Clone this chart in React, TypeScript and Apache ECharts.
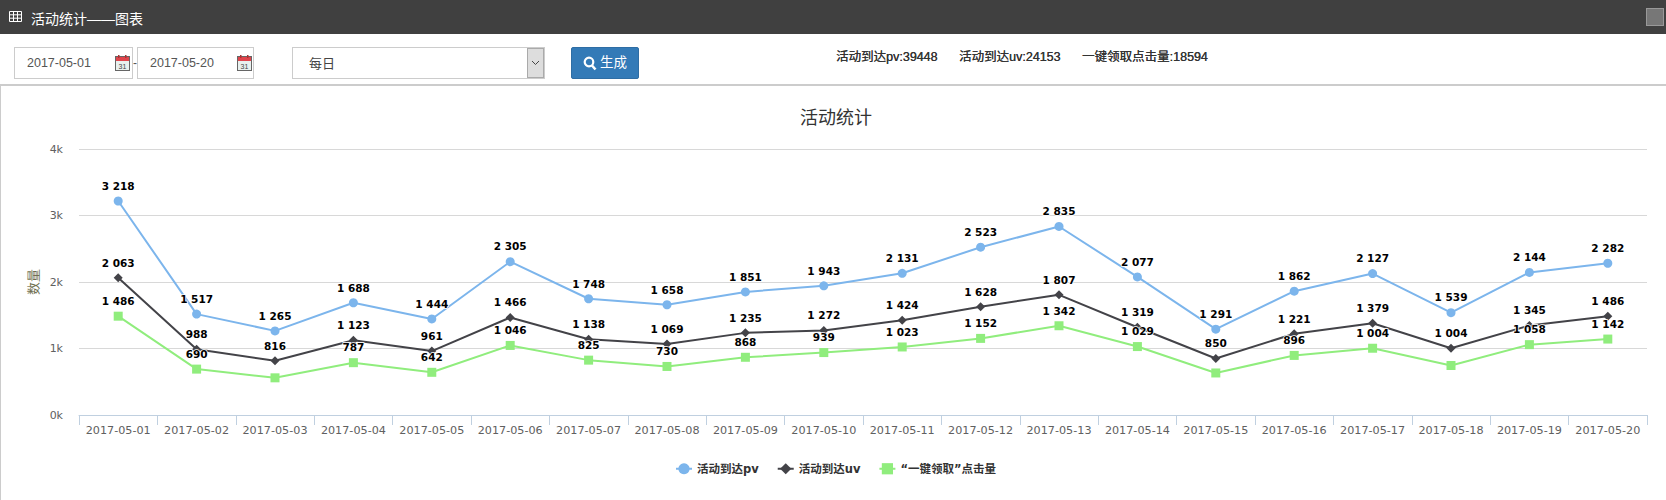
import React, { useEffect, useRef } from "react";
import * as echarts from "echarts";

const categories = ["2017-05-01","2017-05-02","2017-05-03","2017-05-04","2017-05-05","2017-05-06","2017-05-07","2017-05-08","2017-05-09","2017-05-10","2017-05-11","2017-05-12","2017-05-13","2017-05-14","2017-05-15","2017-05-16","2017-05-17","2017-05-18","2017-05-19","2017-05-20"];
const pvValues = [3218,1517,1265,1688,1444,2305,1748,1658,1851,1943,2131,2523,2835,2077,1291,1862,2127,1539,2144,2282];
const uvValues = [2063,988,816,1123,961,1466,1138,1069,1235,1272,1424,1628,1807,1319,850,1221,1379,1004,1345,1486];
const clickValues = [1486,690,559,787,642,1046,825,730,868,939,1023,1152,1342,1029,632,896,1004,744,1058,1142];
const clickHiddenLabels = [2,14,17];
const yTicks = { min: 0, max: 4000, interval: 1000 };
const seriesNames = ["活动到达pv", "活动到达uv", "“一键领取”点击量"];
const stats = ["活动到达pv:39448", "活动到达uv:24153", "一键领取点击量:18594"];

const latin = "DejaVu Sans, Noto Sans CJK SC, sans-serif";
const ui = "Liberation Sans, Noto Sans CJK SC, sans-serif";
const fmt = (v: number) => String(v).replace(/\B(?=(\d{3})+$)/g, " ");

const labelStyle = {
  show: true, position: "top" as const, distance: 5.5,
  fontFamily: latin, fontSize: 10.5, fontWeight: "bold" as const, color: "#000",
  textBorderColor: "#fff", textBorderWidth: 1.5,
  formatter: (p: any) => fmt(p.value),
};

const abs = (left: number, top: number, width: number, height: number, extra: any = {}): any => ({
  position: "absolute", left, top, width, height, boxSizing: "border-box", ...extra,
});
const txt = (left: number, centerY: number, size: number, color: string, extra: any = {}): any => ({
  position: "absolute", left, top: centerY - 10, height: 20, lineHeight: "20px",
  fontSize: size, color, fontFamily: ui, whiteSpace: "nowrap", ...extra,
});

function Calendar({ x }: { x: number }) {
  return (
    <svg style={{ position: "absolute", left: x, top: 55 }} width={15} height={16} viewBox="0 0 15 16">
      <rect x="0.5" y="1.5" width="14" height="14" fill="#e8f0ee" stroke="#666" />
      <rect x="1" y="2" width="13" height="4" fill="#e0444c" />
      <rect x="3" y="0" width="1.5" height="3" fill="#a33" />
      <rect x="10" y="0" width="1.5" height="3" fill="#a33" />
      <text x="7.5" y="13.5" fontSize="7" textAnchor="middle" fill="#444" fontFamily="Liberation Sans">31</text>
    </svg>
  );
}

export default function App() {
  const ref = useRef<HTMLDivElement>(null);
  useEffect(() => {
    const chart = echarts.init(ref.current!, undefined, { renderer: "svg" });
    chart.setOption({
      animation: false,
      color: ["#7cb5ec", "#434348", "#90ed7d"],
      title: {
        text: "活动统计", left: 831, top: 102, textAlign: "center",
        textStyle: { fontFamily: "Noto Sans CJK SC", fontSize: 18, fontWeight: "normal", color: "#333" },
      },
      legend: {
        left: 670, top: 458, itemWidth: 16, itemHeight: 14, itemGap: 18,
        data: seriesNames,
        textStyle: { fontFamily: latin, fontSize: 11.5, fontWeight: "bold", color: "#333" },
      },
      grid: { left: 79, right: 19, top: 149, bottom: 85, containLabel: false },
      xAxis: {
        type: "category", data: categories, boundaryGap: true,
        axisLine: { lineStyle: { color: "#C0D0E0", width: 1 } },
        axisTick: { show: true, length: 10, lineStyle: { color: "#C0D0E0" }, alignWithLabel: false },
        axisLabel: { interval: 0, margin: 10, fontFamily: latin, fontSize: 11.2, color: "#606060" },
        splitLine: { show: false },
      },
      yAxis: {
        type: "value", ...yTicks,
        name: "数量", nameLocation: "middle", nameGap: 40, nameRotate: 90,
        nameTextStyle: { fontFamily: "Noto Sans CJK SC", fontSize: 13, color: "#6f6f50" },
        axisLine: { show: false }, axisTick: { show: false },
        axisLabel: { margin: 16, fontFamily: latin, fontSize: 11, color: "#606060", formatter: (v: number) => v / 1000 + "k" },
        splitLine: { lineStyle: { color: "#D8D8D8", width: 1 } },
      },
      series: [
        { name: seriesNames[0], type: "line", data: pvValues, symbol: "circle", symbolSize: 9, lineStyle: { width: 2 }, label: labelStyle },
        { name: seriesNames[1], type: "line", data: uvValues, symbol: "diamond", symbolSize: 9, lineStyle: { width: 2 }, label: labelStyle },
        {
          name: seriesNames[2], type: "line", symbol: "rect", symbolSize: 9, lineStyle: { width: 2 }, label: labelStyle,
          data: clickValues.map((value, i) => clickHiddenLabels.includes(i) ? { value, label: { show: false } } : { value }),
        },
      ],
    });
    return () => chart.dispose();
  }, []);

  const field = { background: "#fff", border: "1px solid #ccc" };
  return (
    <div style={{ position: "fixed", left: 0, top: 0, width: 1666, height: 500, background: "#fff", overflow: "hidden" }}>
      <div ref={ref} style={{ position: "absolute", left: 0, top: 0, width: 1666, height: 500 }} />
      <div style={abs(0, 0, 1666, 34, { background: "#404040" })} />
      <svg style={{ position: "absolute", left: 9, top: 11 }} width={13} height={11} viewBox="0 0 13 11">
        <path d="M0.5 0.5H12.5V10.5H0.5ZM4.5 0.5V10.5M8.5 0.5V10.5M0.5 3.8H12.5M0.5 7.2H12.5" fill="none" stroke="#fff" strokeWidth="1" />
      </svg>
      <div style={txt(31, 19, 14, "#fff")}>活动统计——图表</div>
      <div style={abs(1646, 8, 18, 18, { background: "#777", border: "1px solid #999" })} />

      <div style={abs(14, 47, 119, 32, field)} />
      <div style={txt(27, 63, 12.5, "#555")}>2017-05-01</div>
      <Calendar x={115} />
      <div style={txt(133, 63, 12, "#555")}>-</div>
      <div style={abs(137, 47, 117, 32, field)} />
      <div style={txt(150, 63, 12.5, "#555")}>2017-05-20</div>
      <Calendar x={237} />

      <div style={abs(292, 47, 253, 32, field)} />
      <div style={txt(309, 64, 13, "#444")}>每日</div>
      <div style={abs(527, 48, 17, 30, { background: "#ddd", border: "1px solid #aaa" })} />
      <svg style={{ position: "absolute", left: 531, top: 60 }} width={9} height={6} viewBox="0 0 9 6">
        <path d="M1 1L4.5 4.5L8 1" fill="none" stroke="#444" strokeWidth="1" />
      </svg>

      <div style={abs(571, 47, 68, 32, { background: "#337ab7", border: "1px solid #2e6da4", borderRadius: 2 })} />
      <svg style={{ position: "absolute", left: 583, top: 56 }} width={14} height={15} viewBox="0 0 14 15">
        <circle cx="6" cy="6" r="4.3" fill="none" stroke="#fff" strokeWidth="2.2" />
        <path d="M9 9.5L12.5 13.5" stroke="#fff" strokeWidth="2.6" />
      </svg>
      <div style={txt(600, 63, 13.5, "#fff")}>生成</div>

      <div style={txt(836, 57, 12.5, "#333", { textShadow: "0.3px 0 0 #333" })}>{stats[0]}</div>
      <div style={txt(959, 57, 12.5, "#333", { textShadow: "0.3px 0 0 #333" })}>{stats[1]}</div>
      <div style={txt(1082, 57, 12.5, "#333", { textShadow: "0.3px 0 0 #333" })}>{stats[2]}</div>

      <div style={abs(0, 84, 1666, 2, { background: "#ccc" })} />
      <div style={abs(0, 86, 1, 414, { background: "#ccc" })} />
    </div>
  );
}
